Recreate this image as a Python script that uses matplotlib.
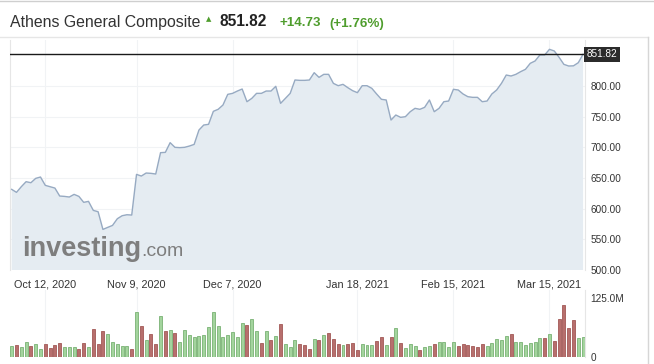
import matplotlib
matplotlib.use('Agg')
import matplotlib.pyplot as plt
import matplotlib.transforms as mtransforms
import numpy as np

plt.rcParams['font.family'] = ['Liberation Sans', 'DejaVu Sans']

#%% Data (one value per trading day)
close = [631.5, 626.6, 635.8, 644.0, 642.3, 649.4, 651.6, 638.0, 635.8, 633.6,
         620.6, 620.0, 619.0, 623.3, 620.0, 610.3, 611.9, 597.2, 595.0, 566.2,
         569.5, 572.7, 583.6, 588.5, 590.1, 589.6, 655.9, 653.2, 658.1, 657.6,
         656.5, 691.3, 691.8, 707.6, 700.0, 699.5, 700.0, 702.1, 704.8, 728.2,
         736.4, 737.5, 758.7, 762.0, 769.0, 786.4, 788.0, 791.8, 795.1, 774.4,
         779.8, 788.0, 788.0, 791.8, 791.8, 799.5, 771.7, 779.8, 788.0, 809.8,
         809.2, 809.2, 809.8, 821.7, 814.1, 819.0, 819.0, 804.3, 800.5, 802.7,
         797.3, 792.4, 789.1, 800.5, 800.5, 796.2, 787.0, 778.3, 777.2, 744.5,
         752.7, 748.9, 750.0, 758.1, 763.6, 762.0, 765.2, 777.2, 758.1, 763.6,
         774.4, 775.5, 794.6, 793.5, 787.0, 782.6, 781.5, 781.5, 774.4, 775.5,
         787.0, 793.5, 804.3, 817.9, 816.3, 819.0, 823.4, 827.2, 837.0, 840.8,
         850.6, 850.6, 859.8, 857.1, 846.8, 835.3, 832.6, 832.9, 838.0, 851.82]

volume_m = [22.6, 24.7, 20.5, 32.5, 22.6, 26.8, 16.3, 26.8, 18.4, 24.7,
            29.0, 20.5, 20.5, 20.5, 16.3, 29.0, 20.5, 58.6, 26.8, 54.4,
            48.0, 31.0, 26.8, 22.6, 22.6, 16.3, 94.6, 65.0, 35.3, 48.0,
            26.8, 86.0, 54.4, 56.5, 50.0, 31.0, 56.5, 46.0, 41.7, 43.8,
            46.0, 62.8, 94.6, 65.0, 41.7, 46.0, 52.2, 41.7, 71.3, 67.0,
            79.8, 54.4, 29.0, 54.4, 35.3, 43.8, 69.0, 26.8, 20.5, 35.3,
            26.8, 24.7, 16.3, 37.4, 35.3, 46.0, 50.0, 37.4, 26.8, 24.7,
            26.8, 29.0, 14.1, 26.8, 24.7, 24.7, 33.2, 41.7, 24.7, 41.7,
            60.8, 29.0, 18.4, 26.8, 22.6, 14.1, 20.5, 22.6, 26.8, 31.0,
            31.0, 20.5, 31.0, 22.6, 26.8, 24.7, 22.6, 20.5, 26.8, 22.6,
            29.0, 37.4, 35.3, 43.8, 48.0, 31.0, 31.0, 24.7, 29.0, 31.0,
            39.6, 39.6, 48.0, 33.2, 80.0, 109.5, 60.8, 77.7, 39.6, 41.7]

# g = up day (green bar), r = down day (red bar)
updown = ('grggrggrrr' 'rgggrrgrrr' 'gggggrgrgr' 'rgrgrggggg'
          'gggggggggr' 'ggrgrgrggg' 'rrrgrgrrrg' 'rrrgggrrgr'
          'grgggrggrg' 'gggrrrrrrg' 'ggggrggggg' 'grgrrrrrgg')

tick_idx = [7, 26, 46, 72, 92, 112]
tick_labels = ['Oct 12, 2020', 'Nov 9, 2020', 'Dec 7, 2020',
               'Jan 18, 2021', 'Feb 15, 2021', 'Mar 15, 2021']
last_price = 851.82

x = np.arange(len(close))
vol = np.array(volume_m) * 1e6
bar_face = ['#a3d49d' if c == 'g' else '#b76f6d' for c in updown]
bar_edge = ['#79b274' if c == 'g' else '#a25856' for c in updown]

#%% Figure
fig = plt.figure(figsize=(6.54, 3.64), dpi=100)
W, H = 654.0, 364.0

ax = fig.add_axes([10 / W, 1 - 270 / H, 575 / W, 230 / H])
axv = fig.add_axes([10 / W, 1 - 357 / H, 575 / W, 67 / H], sharex=ax)

# price panel
ax.fill_between(x, close, 0, color='#e5ecf2', zorder=1, linewidth=0)
ax.plot(x, close, color='#97aac2', linewidth=1.0, zorder=3)
ax.axhline(last_price, color='#1a1a1a', linewidth=1.0, zorder=4)
ax.set_xlim(-0.35, 119.4)
ax.set_ylim(500, 875)
ax.set_yticks(np.arange(500, 801, 50))
ax.yaxis.tick_right()
ax.yaxis.set_major_formatter(matplotlib.ticker.FormatStrFormatter('%.2f'))
ax.tick_params(axis='y', length=0, pad=4, labelsize=7.2, labelcolor='#333333')
ax.set_xticks(tick_idx)
ax.set_xticklabels(tick_labels)
ax.tick_params(axis='x', length=0, pad=7, labelsize=7.8, labelcolor='#333333')
ax.grid(True, color='#f1f3f5', linewidth=0.8, zorder=0)
ax.set_axisbelow(True)
for s in ['top', 'bottom']:
    ax.spines[s].set_visible(False)
for s in ['left', 'right']:
    ax.spines[s].set_color('#e6e6e6')

trans = mtransforms.blended_transform_factory(ax.transAxes, ax.transData)
ax.text(1.003, last_price, '851.82', transform=trans, ha='left', va='center',
        fontsize=7.2, color='white',
        bbox=dict(boxstyle='square,pad=0.25', facecolor='#2b2b2b', edgecolor='none'),
        zorder=6, clip_on=False)

# watermark
fig.text(22 / W, 1 - 256 / H, 'investing', fontsize=19.5, fontweight='bold',
         color='#7e7e7e', ha='left', va='baseline', zorder=5)
fig.text(141 / W, 1 - 256 / H, '.com', fontsize=14, color='#7e7e7e',
         ha='left', va='baseline', zorder=5)

# volume panel
axv.bar(x, vol, width=0.62, color=bar_face, edgecolor=bar_edge, linewidth=0.6, zorder=2)
axv.set_ylim(0, 141.9e6)
axv.set_yticks([0, 125e6])
axv.set_yticklabels(['0', '125.0M'])
axv.yaxis.tick_right()
axv.tick_params(axis='y', length=0, pad=4, labelsize=7.2, labelcolor='#333333')
axv.tick_params(axis='x', length=0, labelbottom=False)
axv.grid(True, axis='x', color='#f1f3f5', linewidth=0.8, zorder=0)
axv.set_axisbelow(True)
for s in ['top', 'bottom', 'left']:
    axv.spines[s].set_visible(False)
axv.spines['right'].set_color('#e6e6e6')

# header
fig.text(10 / W, 1 - 26.5 / H, 'Athens General Composite', fontsize=11.4,
         color='#333333', ha='left', va='baseline')
fig.text(206 / W, 1 - 21 / H, '\u25b2', fontsize=5, color='#4f9d2d',
         family='DejaVu Sans', ha='left', va='baseline')
fig.text(219 / W, 1 - 26.5 / H, '851.82', fontsize=11.2, fontweight='bold',
         color='#222222', ha='left', va='baseline')
fig.text(279 / W, 1 - 26.5 / H, '+14.73', fontsize=9.6, fontweight='bold',
         color='#4f9d2d', ha='left', va='baseline')
fig.text(329 / W, 1 - 26.5 / H, '(+1.76%)', fontsize=9.6, fontweight='bold',
         color='#4f9d2d', ha='left', va='baseline')

# frame lines of the widget
fig.add_artist(plt.Line2D([0, 1], [1 - 1 / H, 1 - 1 / H], color='#cfcfcf', linewidth=1))
fig.add_artist(plt.Line2D([0, 648 / W], [1 - 37 / H, 1 - 37 / H], color='#e6e6e6', linewidth=1))
fig.add_artist(plt.Line2D([648 / W, 648 / W], [0, 1 - 37 / H], color='#d6d6d6', linewidth=1))

plt.savefig('out.png', dpi=100)
